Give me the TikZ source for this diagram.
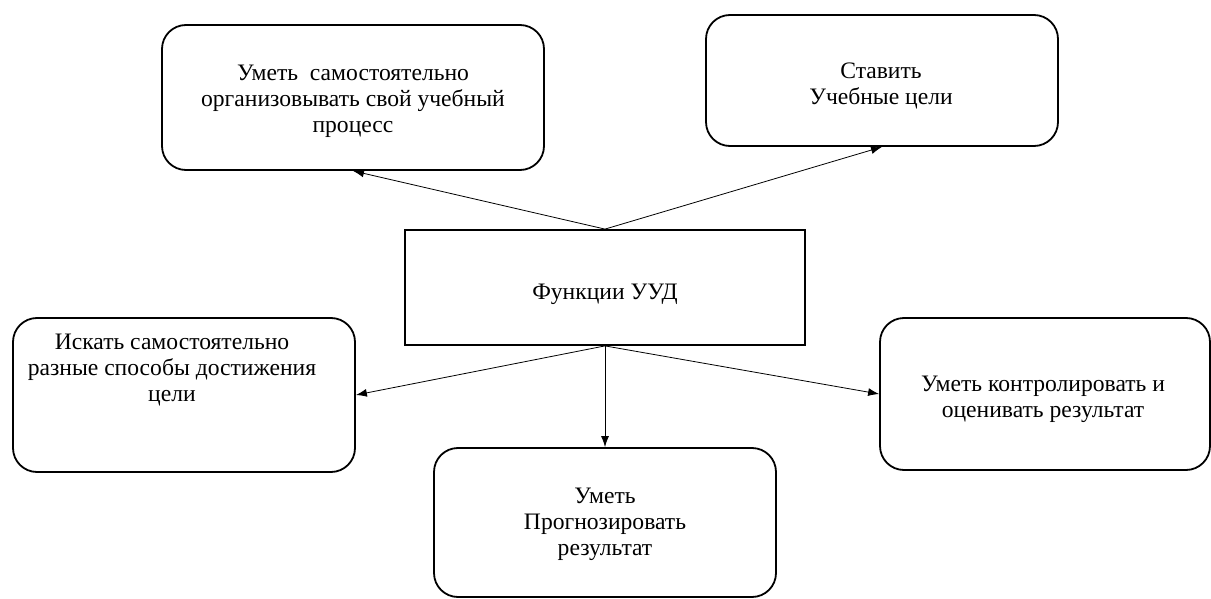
\documentclass[tikz,border=0pt]{standalone}
\usepackage{fontspec}
\setmainfont{Liberation Serif}
\usetikzlibrary{arrows.meta}
\begin{document}
\begin{tikzpicture}[x=1pt,y=-1pt,
  rbox/.style={draw=black, line width=1.8pt, rounded corners=24pt, inner sep=0pt},
  cbox/.style={draw=black, line width=1.8pt, inner sep=0pt},
  txt/.style={align=center, font=\fontsize{23.6}{26}\selectfont},
  arr/.style={draw=black, line width=0.8pt, -{Latex[length=11pt,width=8pt]}}]
\useasboundingbox (0,0) rectangle (1211,599);
\node[cbox, minimum width=400pt, minimum height=115pt] (c) at (605,287.5) {};
\node[txt] (ct) at (605,294) {Функции УУД};
\node[rbox, minimum width=382pt, minimum height=145pt] (tl) at (353,97.5) {};
\node[txt] (tlt) at (353,101) {Уметь\ \ самостоятельно\\организовывать свой учебный\\процесс};
\node[rbox, minimum width=352pt, minimum height=131pt] (tr) at (882,80.5) {};
\node[txt] (trt) at (881,86) {Ставить\\Учебные цели};
\node[rbox, minimum width=342pt, minimum height=154pt] (l) at (184,395) {};
\node[txt] (lt) at (172,370) {Искать самостоятельно\\разные способы достижения\\цели};
\node[rbox, minimum width=330pt, minimum height=152pt] (r) at (1045,394) {};
\node[txt] (rt) at (1043,399) {Уметь контролировать и\\оценивать результат};
\node[rbox, minimum width=342pt, minimum height=149pt] (b) at (605,522.5) {};
\node[txt] (bt) at (605,524) {Уметь\\Прогнозировать\\результат};
\draw[arr] (c.north) -- (tl.south);
\draw[arr] (c.north) -- (tr.south);
\draw[arr] (c.south) -- (l.east);
\draw[arr] (c.south) -- (r.west);
\draw[arr] (c.south) -- (b.north);
\end{tikzpicture}
\end{document}
